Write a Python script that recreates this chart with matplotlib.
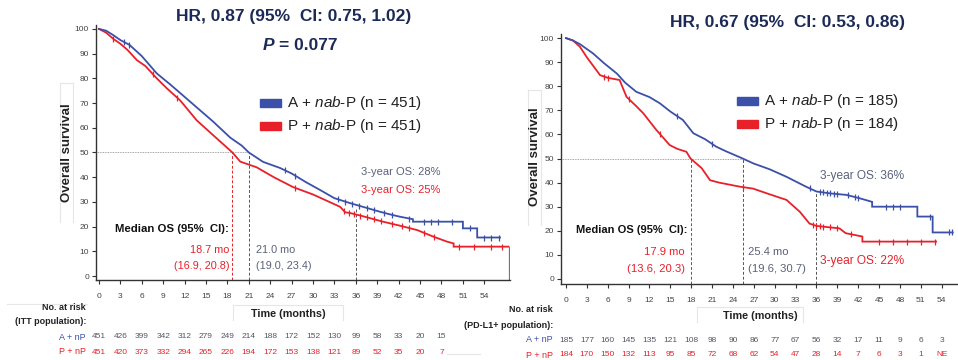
import numpy as np
import matplotlib
matplotlib.use("Agg")
import matplotlib.pyplot as plt
from matplotlib.patches import Rectangle
from matplotlib.lines import Line2D

# ---------------- data ----------------
# ITT population: Kaplan-Meier knots (months, % surviving)
itt_a_t = [0, 1, 2, 3, 4.3, 6, 8.1, 10, 11.4, 13, 14.2, 16, 18.4, 20, 21, 23, 25.4, 27, 29,
           31, 33, 35.2, 37, 39.4, 41, 42.2, 44, 44, 51, 51, 53, 53, 56.2]
itt_a_s = [100, 99.3, 97.5, 95.5, 93.5, 89, 82, 77.5, 74, 70, 67, 62.5, 56, 52.8, 50, 46.2, 43.7,
           41.5, 38, 34.8, 31.5, 29.5, 28, 26, 24.8, 24, 23, 22, 22, 19.3, 19.3, 15.6, 15.6]
itt_p_t = [0, 1, 2, 3, 4, 5.3, 6.5, 8.1, 9.5, 11.4, 13.7, 16, 18.7, 19.8, 22.1, 24.5, 27.2, 30,
           33.8, 34.5, 35.2, 37, 39.8, 42, 44.6, 46.9, 48.8, 49.7, 49.7, 57.4]
itt_p_s = [100, 98.5, 96, 94, 91.5, 87.4, 85, 80, 76, 71, 63, 57, 50, 46.3, 44, 40, 36, 33, 28,
           25.8, 25.5, 24.2, 22, 20.5, 18.6, 15.9, 13.9, 13.2, 11.9, 11.9]
itt_a_cens = [3.5, 4.2, 26, 27.5, 33.5, 34.5, 35.5, 36.5, 37.5, 38.5, 40, 41, 43.5, 45.5, 46.5,
              47.5, 49.5, 52, 54, 55, 56]
itt_p_cens = [2, 7.5, 11, 27.5, 34.3, 35, 35.8, 36.6, 37.5, 38.5, 39.5, 41, 42.5, 43.5, 45.5,
              47, 50.5, 52.5, 55, 56.5]

# PD-L1+ population
pd_a_t = [0, 1, 2, 3.9, 5.5, 7.3, 8.5, 10.1, 12, 13.5, 15, 16.8, 18.3, 20, 21.6, 23, 25.4, 26.9,
          29.3, 31.7, 34.5, 36, 38, 40.3, 42.2, 44, 44, 50.5, 50.5, 52.7, 52.7, 55.6]
pd_a_s = [100, 99, 97.5, 93.6, 89.5, 85.3, 81.5, 77.7, 75.5, 72.9, 69.5, 66, 60.5, 58, 54.9, 53,
          50, 48, 45.5, 42.4, 38.3, 36.3, 35.5, 34.9, 33.5, 32, 30, 30, 25.9, 25.9, 19.3, 19.3]
pd_p_t = [0, 1, 2, 3, 4.9, 6, 7.7, 8.7, 10, 11.1, 13, 14.9, 16, 17.3, 17.9, 19.5, 20.7, 22, 25,
          26.9, 28.8, 31.7, 33.6, 35, 36, 39.3, 40.2, 42.6, 42.6, 53.2]
pd_p_s = [100, 99, 96.4, 92, 84.6, 83.5, 82.6, 75.6, 72, 68.8, 61.8, 55.6, 54, 52.8, 50, 46, 41,
          40, 38.3, 37.5, 35.6, 32.8, 27.9, 23, 22, 21, 19, 17.6, 15.5, 15.5]
pd_a_cens = [16, 21, 35, 36.5, 37, 37.5, 38, 38.5, 39, 40.5, 41.5, 42, 46, 47, 48, 52.3, 55, 55.5]
pd_p_cens = [5.5, 6, 9, 13.5, 25.5, 35.5, 36, 36.5, 37, 38, 39, 41, 45, 47, 49, 51, 53]

ticks = list(range(0, 55, 3))
itt_risk_a = ["451", "426", "399", "342", "312", "279", "249", "214", "188", "172", "152", "130",
              "99", "58", "33", "20", "15"]
itt_risk_p = ["451", "420", "373", "332", "294", "265", "226", "194", "172", "153", "138", "121",
              "89", "52", "35", "20", "7"]
pd_risk_a = ["185", "177", "160", "145", "135", "121", "108", "98", "90", "86", "77", "67",
             "56", "32", "17", "11", "9", "6", "3"]
pd_risk_p = ["184", "170", "150", "132", "113", "95", "85", "72", "68", "62", "54", "47",
             "28", "14", "7", "6", "3", "1", "NE"]

itt_median = (18.7, 21.0)
pd_median = (17.9, 25.4)
itt_os3 = (28, 25)
pd_os3 = (36, 22)

# ---------------- style ----------------
BLUE = "#3b50a8"
RED = "#e8202a"
NAVY = "#1c2a57"
SLATE = "#59627a"
FRAME = "#e6e6e6"

plt.rcParams["font.family"] = ["Liberation Sans", "DejaVu Sans"]
plt.rcParams["mathtext.fontset"] = "custom"
plt.rcParams["mathtext.rm"] = "Liberation Sans"
plt.rcParams["mathtext.it"] = "Liberation Sans:italic"
plt.rcParams["mathtext.bf"] = "Liberation Sans:bold"

W, H = 958, 360
fig = plt.figure(figsize=(W / 100, H / 100), dpi=100)
fig.patch.set_facecolor("white")


def fx(x):
    return x / W


def fy(y):
    return 1 - y / H


def ftext(x, y, s, **kw):
    kw.setdefault("va", "center")
    return fig.text(fx(x), fy(y), s, **kw)


def fline(xs, ys, color=FRAME, lw=0.8):
    fig.add_artist(Line2D([fx(v) for v in xs], [fy(v) for v in ys], color=color, lw=lw,
                          transform=fig.transFigure))


def panel(rect_px, xlim, ylim, a_t, a_s, p_t, p_s, a_c, p_c, med, os3):
    l, t, r, b = rect_px
    ax = fig.add_axes([fx(l), fy(b), (r - l) / W, (b - t) / H])
    ax.set_xlim(*xlim)
    ax.set_ylim(*ylim)
    for sp in ("top", "right"):
        ax.spines[sp].set_visible(False)
    for sp in ("left", "bottom"):
        ax.spines[sp].set_color("#333333")
        ax.spines[sp].set_linewidth(1.0)
    ax.set_xticks(ticks)
    ax.set_yticks(range(0, 101, 10))
    ax.tick_params(direction="out", length=3, width=0.8, labelsize=6, colors="#333333",
                   labelcolor="#444444", pad=2)
    ax.tick_params(axis="x", pad=6)

    # reference lines at the median and at 3 years
    ax.plot([xlim[0], med[1]], [50, 50], color="#888888", lw=0.6, ls=(0, (1, 1)))
    ax.plot([med[0], med[0]], [ylim[0], 50], color=RED, lw=0.7, ls=(0, (3, 2)))
    ax.plot([med[1], med[1]], [ylim[0], 50], color="#555555", lw=0.7, ls=(0, (3, 2)))
    ax.plot([36, 36], [ylim[0], os3[0]], color="#555555", lw=0.7, ls=(0, (3, 2)))

    ax.plot(p_t, p_s, color=RED, lw=1.3, solid_joinstyle="miter")
    ax.plot(a_t, a_s, color=BLUE, lw=1.3, solid_joinstyle="miter")
    ax.plot(a_c, np.interp(a_c, a_t, a_s), ls="none", marker="|", ms=4, mew=0.9, color=BLUE)
    ax.plot(p_c, np.interp(p_c, p_t, p_s), ls="none", marker="|", ms=4, mew=0.9, color=RED)
    return ax


# left panel (ITT)
axL = panel((96, 25, 510, 280), (-0.42, 57.6), (-1.6, 101.6), itt_a_t, itt_a_s, itt_p_t,
            itt_p_s, itt_a_cens, itt_p_cens, itt_median, itt_os3)
axL.plot([57.4, 57.4], [-1.6, itt_p_s[-1]], color="#777777", lw=0.9)

# right panel (PD-L1+)
axR = panel((561, 34, 957, 284), (-0.72, 56.2), (-2.1, 101.7), pd_a_t, pd_a_s, pd_p_t,
            pd_p_s, pd_a_cens, pd_p_cens, pd_median, pd_os3)

# light frames around the axis titles and the at-risk header
fline([60, 60], [83, 222])
fline([73, 73], [83, 222])
fline([60, 73], [83, 83])
fline([528, 528], [90, 225])
fline([541, 541], [90, 225])
fline([528, 541], [90, 90])
fline([233, 343, 343], [305, 305, 320])
fline([233, 233], [305, 320])
fline([697, 803, 803], [307, 307, 322])
fline([697, 697], [307, 322])
fline([7, 87], [304, 304])
fline([447, 480], [354, 354])

# titles
ftext(294, 16, "HR, 0.87 (95%  CI: 0.75, 1.02)", ha="center", fontsize=12.5, fontweight="bold",
      color=NAVY)
ftext(274, 46, "P", ha="right", fontsize=12.5, fontweight="bold", fontstyle="italic", color=NAVY)
ftext(279, 46, "= 0.077", ha="left", fontsize=12.5, fontweight="bold", color=NAVY)
ftext(787, 22, "HR, 0.67 (95%  CI: 0.53, 0.86)", ha="center", fontsize=12.5, fontweight="bold",
      color=NAVY)

# legends
for (lx, ly, n_a, n_p) in [(260, 103, 451, 451), (737, 101, 185, 184)]:
    for dy, col, lab, n in [(0, BLUE, "A", n_a), (23, RED, "P", n_p)]:
        fig.patches.append(Rectangle((fx(lx), fy(ly + dy + 4)), 21 / W, 8 / H,
                                     transform=fig.transFigure, color=col))
        ftext(lx + 27, ly + dy, f"{lab} + $\\it{{nab}}$-P (n = {n})", ha="left", fontsize=11,
              color="#222222")

# y labels
ftext(67, 153, "Overall survival", rotation=90, ha="center", fontsize=9.5, fontweight="bold",
      color="#222222")
ftext(535, 157, "Overall survival", rotation=90, ha="center", fontsize=9.5, fontweight="bold",
      color="#222222")

# median annotations
ftext(172, 229, "Median OS (95%  CI):", ha="center", fontsize=8.2, fontweight="bold",
      color="#111111")
ftext(229, 250, f"{itt_median[0]} mo", ha="right", fontsize=7.8, color=RED)
ftext(229, 266, "(16.9, 20.8)", ha="right", fontsize=7.8, color=RED)
ftext(256, 250, f"{itt_median[1]:.1f} mo", ha="left", fontsize=7.8, color=SLATE)
ftext(256, 266, "(19.0, 23.4)", ha="left", fontsize=7.8, color=SLATE)
ftext(361, 172, f"3-year OS: {itt_os3[0]}%", ha="left", fontsize=8, color=SLATE)
ftext(361, 190, f"3-year OS: {itt_os3[1]}%", ha="left", fontsize=8, color=RED)

ftext(632, 230, "Median OS (95%  CI):", ha="center", fontsize=8, fontweight="bold",
      color="#111111")
ftext(685, 252, f"{pd_median[0]} mo", ha="right", fontsize=8.1, color=RED)
ftext(685, 269, "(13.6, 20.3)", ha="right", fontsize=8.1, color=RED)
ftext(748, 252, f"{pd_median[1]} mo", ha="left", fontsize=8.1, color=SLATE)
ftext(748, 269, "(19.6, 30.7)", ha="left", fontsize=8.1, color=SLATE)
ftext(820, 176, f"3-year OS: {pd_os3[0]}%", ha="left", fontsize=8.6, color=SLATE)
ftext(820, 261, f"3-year OS: {pd_os3[1]}%", ha="left", fontsize=8.6, color=RED)

# x labels
ftext(288, 314, "Time (months)", ha="center", fontsize=7.8, fontweight="bold", color="#222222")
ftext(760, 316, "Time (months)", ha="center", fontsize=7.8, fontweight="bold", color="#222222")


# numbers at risk
def risk_table(ax, x_right, y0, pop, ra, rp):
    ftext(x_right, y0, "No. at risk", ha="right", fontsize=6.5, fontweight="bold", color="#222222")
    ftext(x_right, y0 + 15, pop, ha="right", fontsize=6.5, fontweight="bold", color="#222222")
    ftext(x_right, y0 + 30, "A + nP", ha="right", fontsize=6.5, color=BLUE)
    ftext(x_right, y0 + 45, "P + nP", ha="right", fontsize=6.5, color=RED)
    tr = ax.transData
    for vals, dy, col in [(ra, 30, "#555566"), (rp, 45, RED)]:
        for t, v in zip(ticks, vals):
            xp = tr.transform((t, 0))[0] / fig.dpi * 100
            ftext(xp, y0 + dy, v, ha="center", fontsize=6, color=col)


risk_table(axL, 86, 307, "(ITT population):", itt_risk_a, itt_risk_p)
risk_table(axR, 553, 310, "(PD-L1+ population):", pd_risk_a, pd_risk_p)

fig.savefig("out.png", dpi=100, facecolor="white")
